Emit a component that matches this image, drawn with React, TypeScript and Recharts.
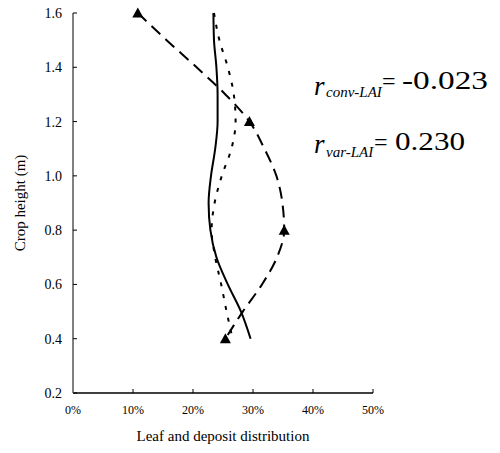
import { LineChart, Line, XAxis, YAxis } from "recharts";

// crop heights (m) at which the profiles were read
const heights = [1.6, 1.5, 1.4, 1.3, 1.2, 1.1, 1.0, 0.9, 0.8, 0.7, 0.6, 0.5, 0.4];
// solid line
const convModel = [23.4, 23.5, 23.9, 24.1, 24.1, 23.7, 23.0, 22.6, 22.9, 23.9, 25.8, 28.0, 29.6];
// dotted line
const varModel = [23.5, 24.4, 25.8, 26.8, 27.1, 26.4, 24.8, 23.6, 23.1, 23.7, 24.7, 25.6, 26.6];
// dashed line
const depositFit = [10.8, 15.6, 20.6, 25.4, 29.4, 31.9, 33.9, 34.9, 35.2, 34.0, 31.5, 28.3, 25.4];
// triangles
const measuredHeights = [1.6, 1.2, 0.8, 0.4];
const measuredDeposit = [10.8, 29.4, 35.2, 25.4];

const xTicks = [0, 10, 20, 30, 40, 50];
const yTicks = [0.2, 0.4, 0.6, 0.8, 1.0, 1.2, 1.4, 1.6];

const rows = heights.map((h, i) => ({
  h,
  conv: convModel[i],
  vari: varModel[i],
  fit: depositFit[i],
}));
const measuredRows = measuredHeights.map((h, i) => ({ h, measured: measuredDeposit[i] }));

const serif = '"Liberation Serif", "Times New Roman", serif';

function Triangle(props: any) {
  const { cx, cy, index } = props;
  if (cx == null || cy == null) return <g key={`t-${index}`} />;
  return (
    <path
      key={`t-${index}`}
      d={`M${cx},${cy - 5.5} L${cx + 5.5},${cy + 4.5} L${cx - 5.5},${cy + 4.5} Z`}
      fill="#000"
    />
  );
}

export default function App() {
  return (
    <div style={{ position: "absolute", left: 0, top: 0, width: 500, height: 453, fontFamily: serif, background: "#fff" }}>
      <LineChart
        width={500}
        height={453}
        layout="vertical"
        data={rows}
        margin={{ top: 13, right: 127, bottom: 0, left: 0 }}
      >
        <XAxis
          type="number"
          domain={[0, 50]}
          ticks={xTicks}
          tickFormatter={(v: number) => `${v}%`}
          height={60}
          tickSize={-4}
          tickMargin={16}
          axisLine={{ stroke: "#000", strokeWidth: 1.5 }}
          tickLine={{ stroke: "#000" }}
          tick={{ fill: "#000", fontSize: 12, fontFamily: serif }}
          label={{
            value: "Leaf and deposit distribution",
            position: "insideBottom",
            offset: 12,
            fill: "#000",
            fontSize: 15,
            fontFamily: serif,
          }}
        />
        <YAxis
          type="number"
          dataKey="h"
          domain={[0.2, 1.6]}
          ticks={yTicks}
          reversed
          tickFormatter={(v: number) => v.toFixed(1)}
          width={73}
          tickSize={-4}
          tickMargin={15}
          axisLine={{ stroke: "#808080", strokeWidth: 2 }}
          tickLine={{ stroke: "#000" }}
          tick={{ fill: "#000", fontSize: 14, fontFamily: serif }}
          label={{
            value: "Crop height (m)",
            angle: -90,
            position: "insideLeft",
            offset: 20,
            style: { textAnchor: "middle" },
            fill: "#000",
            fontSize: 15,
            fontFamily: serif,
          }}
        />
        <Line dataKey="conv" type="monotone" stroke="#000" strokeWidth={2} dot={false} isAnimationActive={false} />
        <Line
          dataKey="vari"
          type="monotone"
          stroke="#000"
          strokeWidth={2}
          strokeDasharray="4 8"
          dot={false}
          isAnimationActive={false}
        />
        <Line
          dataKey="fit"
          type="monotone"
          stroke="#000"
          strokeWidth={2}
          strokeDasharray="12 7"
          dot={false}
          isAnimationActive={false}
        />
        <Line
          data={measuredRows}
          dataKey="measured"
          stroke="none"
          dot={Triangle}
          activeDot={false}
          isAnimationActive={false}
        />
      </LineChart>
      <svg width={500} height={453} style={{ position: "absolute", left: 0, top: 0, fontFamily: serif }} fill="#000">
        <text x={314} y={95} fontSize={27} fontStyle="italic">r</text>
        <text x={326} y={97} fontSize={15} fontStyle="italic">conv-LAI</text>
        <text x={382} y={89} fontSize={24}>=</text>
        <text x={402} y={89} fontSize={25} textLength={86} lengthAdjust="spacingAndGlyphs">-0.023</text>
        <text x={314} y={153} fontSize={27} fontStyle="italic">r</text>
        <text x={326} y={157} fontSize={15} fontStyle="italic">var-LAI</text>
        <text x={374} y={150} fontSize={24}>=</text>
        <text x={395} y={150} fontSize={25} textLength={70} lengthAdjust="spacingAndGlyphs">0.230</text>
      </svg>
    </div>
  );
}
